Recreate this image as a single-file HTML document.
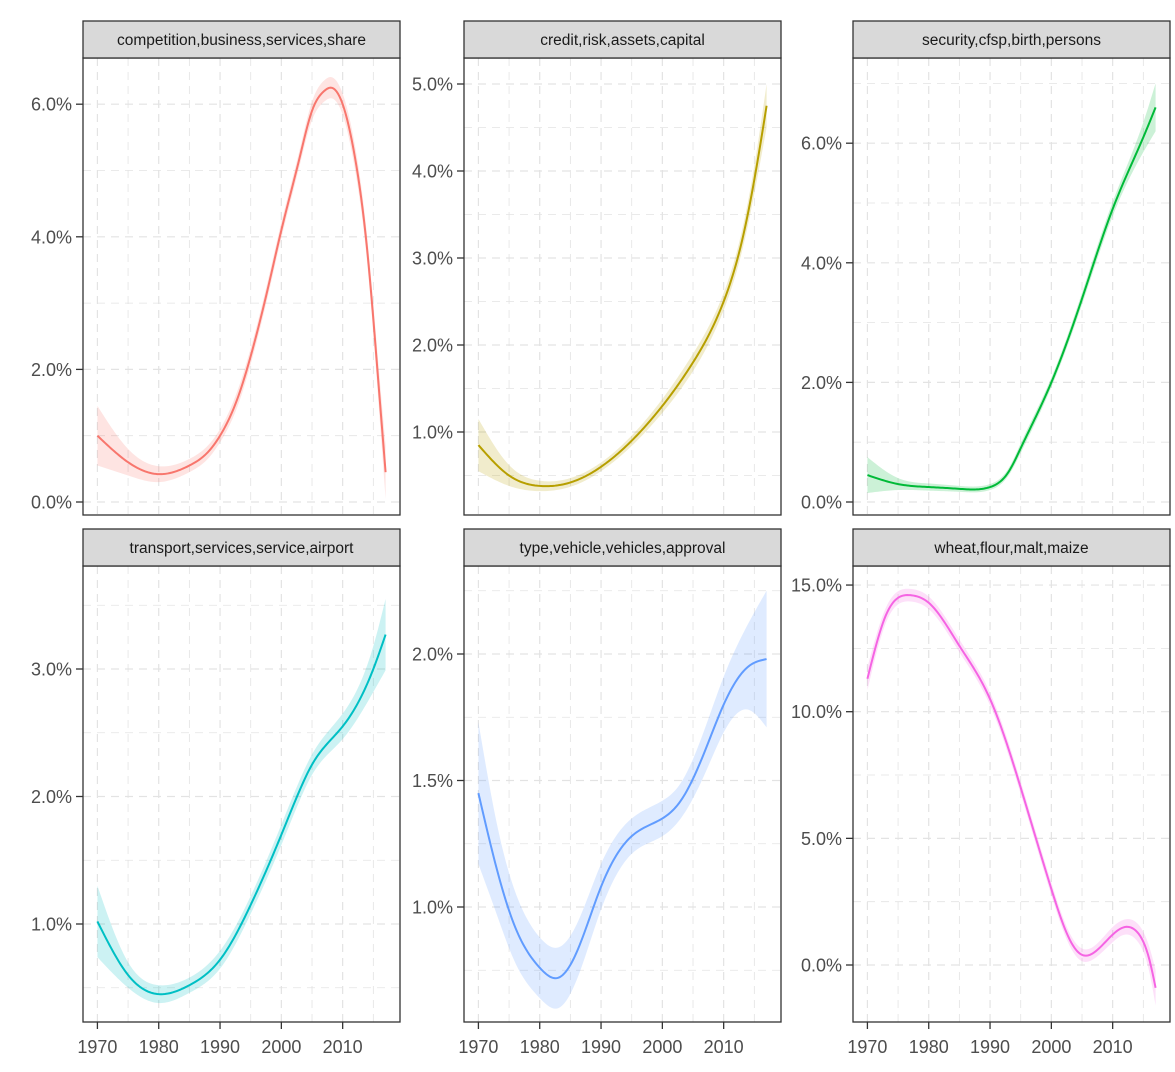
<!DOCTYPE html>
<html><head><meta charset="utf-8"><style>
html,body{margin:0;background:#fff;font-family:"Liberation Sans",sans-serif;width:1175px;height:1072px;overflow:hidden}
svg{display:block}
</style></head><body>
<svg id="c" width="1175" height="1072"></svg>
<script>
const titles=["competition,business,services,share","credit,risk,assets,capital","security,cfsp,birth,persons","transport,services,service,airport","type,vehicle,vehicles,approval","wheat,flour,malt,maize"];
const colors=["#F8766D","#B79F00","#00BA38","#00BFC4","#619CFF","#F564E3"];
const years1=[1970,1975,1980,1985,1988,1990,1993,1995,1998,2000,2003,2005,2007,2008,2010,2012,2014,2016,2017];
const vals1=[1.0,0.6,0.42,0.55,0.75,1.0,1.6,2.2,3.3,4.1,5.2,5.9,6.2,6.25,6.0,5.2,3.8,1.6,0.45];
const se1=[0.45,0.2,0.12,0.1,0.1,0.1,0.12,0.12,0.12,0.12,0.12,0.14,0.16,0.16,0.16,0.18,0.2,0.3,0.4];
const years2=[1970,1975,1980,1985,1990,1995,2000,2005,2010,2013,2015,2017];
const vals2=[0.85,0.5,0.38,0.42,0.6,0.9,1.3,1.8,2.5,3.2,3.9,4.75];
const se2=[0.3,0.12,0.06,0.05,0.05,0.06,0.08,0.1,0.1,0.12,0.16,0.25];
const years3=[1970,1975,1980,1985,1990,1993,1995,2000,2005,2010,2015,2017];
const vals3=[0.45,0.3,0.25,0.22,0.25,0.5,0.9,2.0,3.4,4.9,6.1,6.6];
const se3=[0.3,0.1,0.06,0.05,0.05,0.06,0.08,0.08,0.1,0.12,0.25,0.4];
const years4=[1970,1975,1980,1985,1990,1995,2000,2003,2005,2010,2015,2017];
const vals4=[1.02,0.6,0.45,0.52,0.72,1.15,1.7,2.05,2.25,2.55,3.0,3.27];
const se4=[0.28,0.1,0.07,0.06,0.07,0.07,0.08,0.08,0.08,0.1,0.18,0.28];
const years5=[1970,1973,1976,1980,1983,1986,1990,1995,2000,2003,2007,2010,2014,2017];
const vals5=[1.45,1.15,0.92,0.76,0.72,0.82,1.08,1.28,1.35,1.42,1.62,1.8,1.95,1.98];
const se5=[0.28,0.18,0.14,0.12,0.12,0.11,0.09,0.07,0.07,0.07,0.09,0.11,0.17,0.27];
const years6=[1970,1973,1977,1980,1985,1990,1995,2000,2003,2005,2007,2010,2012,2014,2016,2017];
const vals6=[11.3,13.8,14.6,14.3,12.6,10.5,7.0,3.0,1.0,0.4,0.5,1.2,1.5,1.3,0.2,-0.9];
const se6=[0.45,0.3,0.25,0.25,0.25,0.25,0.25,0.25,0.25,0.25,0.25,0.3,0.3,0.35,0.5,0.7];
const xTicks=[1970,1980,1990,2000,2010];
const xTickLabels=["1970","1980","1990","2000","2010"];
const yTicks=[[0,2,4,6],[1,2,3,4,5],[0,2,4,6],[1,2,3],[1,1.5,2],[0,5,10,15]];
const yTickLabels=[["0.0%","2.0%","4.0%","6.0%"],["1.0%","2.0%","3.0%","4.0%","5.0%"],["0.0%","2.0%","4.0%","6.0%"],["1.0%","2.0%","3.0%"],["1.0%","1.5%","2.0%"],["0.0%","5.0%","10.0%","15.0%"]];
const series=[[years1,vals1,se1],[years2,vals2,se2],[years3,vals3,se3],[years4,vals4,se4],[years5,vals5,se5],[years6,vals6,se6]];
const cols=[[83,400],[464,781],[853,1170]];
const rows=[[21,58,515],[529,566,1022]];
const yCal=[[0,502,66.3],[1,432,87],[0,502,59.8],[1,924,127.5],[1,907,253],[0,965,25.33]];
const svg=document.getElementById('c');
const NS="http://www.w3.org/2000/svg";
function mk(t,a,p){const e=document.createElementNS(NS,t);for(const k in a)e.setAttribute(k,a[k]);(p||svg).appendChild(e);return e;}
function spline(xs,ys){const n=xs.length,h=[],al=[0],l=[1],mu=[0],z=[0],c=new Array(n).fill(0),b=[],d=[];
  for(let i=0;i<n-1;i++)h.push(xs[i+1]-xs[i]);
  for(let i=1;i<n-1;i++)al.push(3/h[i]*(ys[i+1]-ys[i])-3/h[i-1]*(ys[i]-ys[i-1]));
  for(let i=1;i<n-1;i++){l[i]=2*(xs[i+1]-xs[i-1])-h[i-1]*mu[i-1];mu[i]=h[i]/l[i];z[i]=(al[i]-h[i-1]*z[i-1])/l[i];}
  for(let j=n-2;j>=0;j--){c[j]=(j>0?z[j]-mu[j]*c[j+1]:0);b[j]=(ys[j+1]-ys[j])/h[j]-h[j]*(c[j+1]+2*c[j])/3;d[j]=(c[j+1]-c[j])/(3*h[j]);}
  c[0]=0;for(let j=0;j<n-1;j++){b[j]=(ys[j+1]-ys[j])/h[j]-h[j]*(c[j+1]+2*c[j])/3;d[j]=(c[j+1]-c[j])/(3*h[j]);}
  return x=>{let j=0;while(j<n-2&&x>xs[j+1])j++;const t=x-xs[j];return ys[j]+b[j]*t+c[j]*t*t+d[j]*t*t*t;};}
for(let i=0;i<6;i++){
  const [x0,x1]=cols[i%3];const [st,pt,pb]=rows[Math.floor(i/3)];
  const xs=y=>x0+(y-1967.65)/(2019.35-1967.65)*(x1-x0);
  const [v0,p0,k]=yCal[i];const ys=v=>p0-(v-v0)*k;
  const g=mk('g',{});
  
  
  const cid='clip'+i;const cp=mk('clipPath',{id:cid},g);mk('rect',{x:x0,y:pt,width:x1-x0,height:pb-pt},cp);
  const grid=mk('g',{stroke:'#e3e3e3','stroke-dasharray':'8,6','clip-path':'url(#'+cid+')'},g);
  
  for(let y=1965;y<=2020;y+=5)mk('line',{x1:xs(y),x2:xs(y),y1:pt,y2:pb,'stroke-width':y%10?0.8:1.2},grid);
  const yt=yTicks[i],step=(yt[1]-yt[0])/2;
  for(let v=yt[0]-4*step;v<=yt[yt.length-1]+4*step;v+=step)mk('line',{x1:x0,x2:x1,y1:ys(v),y2:ys(v),'stroke-width':Math.abs(((v-yt[0])/step)%2)<0.01?1.2:0.8},grid);
  const [yr,vl,se]=series[i];
  const fv=spline(yr,vl),fs=spline(yr,se);
  const samp=[];for(let y=yr[0];y<=yr[yr.length-1]+1e-6;y+=0.25)samp.push(y);
  const up=samp.map(y=>xs(y).toFixed(2)+","+ys(fv(y)+Math.max(0.02,fs(y))).toFixed(2));
  const lo=samp.slice().reverse().map(y=>xs(y).toFixed(2)+","+ys(fv(y)-Math.max(0.02,fs(y))).toFixed(2));
  const band=mk('path',{d:"M"+up.join(" L")+" L"+lo.join(" L")+" Z",fill:colors[i],'fill-opacity':0.2,'clip-path':'url(#'+cid+')'},g);
  
  const ln=mk('path',{d:"M"+samp.map(y=>xs(y).toFixed(2)+","+ys(fv(y)).toFixed(2)).join(" L"),fill:'none',stroke:colors[i],'stroke-width':2,'clip-path':'url(#'+cid+')'},g);
  
  mk('rect',{x:x0,y:pt,width:x1-x0,height:pb-pt,fill:'none',stroke:'#333','stroke-width':1.3},g);
  const sr=mk('rect',{x:x0,y:st,width:x1-x0,height:pt-st,fill:'#d9d9d9',stroke:'#333','stroke-width':1.3},g);
  
  const stx=mk('text',{x:(x0+x1)/2,y:(st+pt)/2+5.5,'text-anchor':'middle','font-size':15.5,fill:'#1a1a1a'},g);
  
  stx.textContent=titles[i];
  yt.forEach((v,j)=>{mk('line',{x1:x0-7,x2:x0,y1:ys(v),y2:ys(v),stroke:'#333','stroke-width':1.3},g);
    const t=mk('text',{x:x0-11,y:ys(v)+6.5,'text-anchor':'end','font-size':18,fill:'#4d4d4d'},g);
    
    t.textContent=yTickLabels[i][j];});
  if(i>=3)xTicks.forEach((y,j)=>{mk('line',{x1:xs(y),x2:xs(y),y1:pb,y2:pb+7,stroke:'#333','stroke-width':1.3},g);
    const t=mk('text',{x:xs(y),y:pb+31,'text-anchor':'middle','font-size':18,fill:'#4d4d4d'},g);
    
    t.textContent=xTickLabels[j];});
}
</script>
</body></html>
